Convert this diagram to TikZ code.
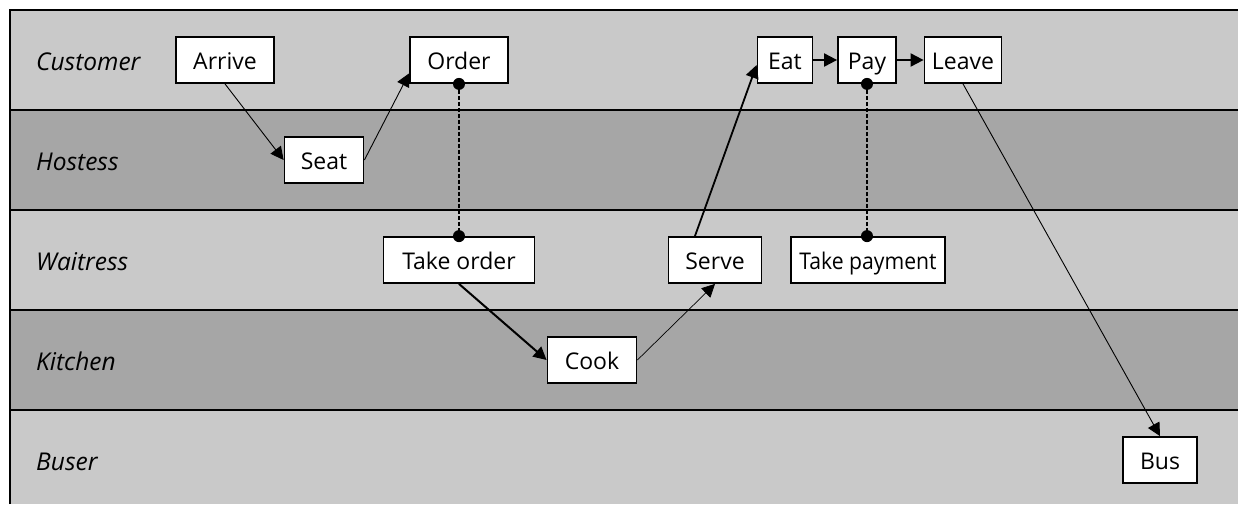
\documentclass[tikz,border=0pt]{standalone}
\usepackage{fontspec}
\setmainfont{Open Sans}
\usetikzlibrary{arrows.meta}
\definecolor{laneL}{HTML}{C9C9C9}
\definecolor{laneD}{HTML}{A6A6A6}
\begin{document}
\begin{tikzpicture}[x=1pt,y=-1pt,
  act/.style={draw,fill=white,line width=1.8pt,minimum height=46pt,inner sep=0pt,
    text height=18.5pt,text depth=0pt,font=\fontsize{23}{26}\selectfont},
  lanelabel/.style={font=\fontsize{24.5}{27}\selectfont\itshape,anchor=base west,inner sep=0pt},
  flow/.style={-{Triangle[length=13pt,width=13pt]}},
  link/.style={line width=2.2pt,dash pattern=on 4pt off 2pt},
  sep/.style={line width=2pt}]
\useasboundingbox (0,0) rectangle (1241,504);
% lanes
\fill[laneL] (10,10) rectangle (1238,110);
\fill[laneD] (10,110) rectangle (1238,210);
\fill[laneL] (10,210) rectangle (1238,310);
\fill[laneD] (10,310) rectangle (1238,410);
\fill[laneL] (10,410) rectangle (1238,504);
\draw[line width=2.5pt] (10,504) -- (10,10) -- (1238,10);
\draw[sep] (10,110) -- (1238,110);
\draw[sep] (10,210) -- (1238,210);
\draw[sep] (10,310) -- (1238,310);
\draw[sep] (10,410) -- (1238,410);
% lane labels
\node[lanelabel] (lCustomer) at (36,70) {Customer};
\node[lanelabel] (lHostess) at (36,170) {Hostess};
\node[lanelabel] (lWaitress) at (36,270) {Waitress};
\node[lanelabel] (lKitchen) at (36,370) {Kitchen};
\node[lanelabel] (lBuser) at (36,470) {Buser};
% activities
\node[act,minimum width=98pt] (Arrive) at (225,60) {Arrive};
\node[act,minimum width=98pt] (Order) at (459,60) {Order};
\node[act,minimum width=79pt] (Seat) at (324,160) {Seat};
\node[act,minimum width=55pt] (Eat) at (785,60) {Eat};
\node[act,minimum width=58pt] (Pay) at (867,60) {Pay};
\node[act,minimum width=77pt] (Leave) at (963,60) {Leave};
\node[act,minimum width=151pt] (TakeOrder) at (459,260) {Take order};
\node[act,minimum width=93pt] (Serve) at (715,260) {Serve};
\node[act,minimum width=154pt] (TakePayment) at (868,260) {\scalebox{0.92}[1]{Take payment}};
\node[act,minimum width=89pt] (Cook) at (592,360) {Cook};
\node[act,minimum width=74pt] (Bus) at (1160,460) {Bus};
% flows
\draw[flow,line width=0.9pt] (Arrive.south) -- (Seat.west);
\draw[flow,line width=0.9pt] (Seat.east) -- (Order.195);
\draw[flow,line width=2pt] (TakeOrder.south) -- (Cook.west);
\draw[flow,line width=0.7pt] (Cook.east) -- (Serve.south);
\draw[flow,line width=1.8pt] (Serve.130) -- (Eat.190);
\draw[flow,line width=2pt] (Eat.east) -- (Pay.west);
\draw[flow,line width=2pt] (Pay.east) -- (Leave.west);
\draw[flow,line width=0.9pt] (Leave.south) -- (Bus.north);
% links
\draw[link] (Order.south) -- (TakeOrder.north);
\fill (Order.south) circle (6pt);
\fill (TakeOrder.north) circle (6pt);
\draw[link] (Pay.south) -- (TakePayment.north -| Pay.south);
\fill (Pay.south) circle (6pt);
\fill (TakePayment.north -| Pay.south) circle (6pt);
\end{tikzpicture}
\end{document}
